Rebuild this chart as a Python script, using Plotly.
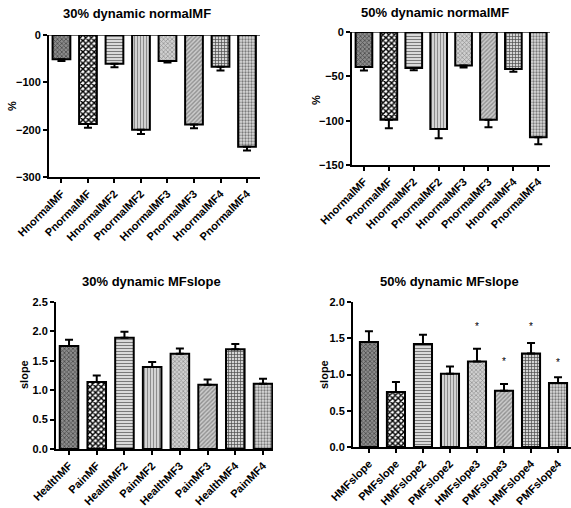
import plotly.graph_objects as go

W, H = 571, 508

cats_tl = ["HnormalMF", "PnormalMF", "HnormalMF2", "PnormalMF2", "HnormalMF3", "PnormalMF3", "HnormalMF4", "PnormalMF4"]
vals_tl = [-51, -188, -61, -200, -55, -189, -67, -236]
err_tl = [4, 8, 7, 9, 3, 8, 8, 8]

cats_tr = ["HnormalMF", "PnormalMF", "HnormalMF2", "PnormalMF2", "HnormalMF3", "PnormalMF3", "HnormalMF4", "PnormalMF4"]
vals_tr = [-39.5, -99, -40.7, -109.3, -37.7, -99, -41.8, -118.7]
err_tr = [3.8, 9.5, 2.3, 10.5, 2.3, 8.4, 3, 7.9]

cats_bl = ["HealthMF", "PainMF", "HealthMF2", "PainMF2", "HealthMF3", "PainMF3", "HealthMF4", "PainMF4"]
vals_bl = [1.75, 1.14, 1.89, 1.395, 1.62, 1.094, 1.695, 1.11]
err_bl = [0.11, 0.11, 0.105, 0.085, 0.09, 0.09, 0.09, 0.086]

cats_br = ["HMFslope", "PMFslope", "HMFslope2", "PMFslope2", "HMFslope3", "PMFslope3", "HMFslope4", "PMFslope4"]
vals_br = [1.45, 0.76, 1.42, 1.01, 1.18, 0.777, 1.29, 0.883]
err_br = [0.145, 0.135, 0.13, 0.1, 0.175, 0.092, 0.144, 0.078]
star_idx_br = [4, 5, 6, 7]
star_y_br = [1.66, 1.18, 1.66, 1.17]

titles = ["30% dynamic normalMF", "50% dynamic normalMF", "30% dynamic MFslope", "50% dynamic MFslope"]
ytitles = ["%", "%", "slope", "slope"]

# patterns per bar position
patterns = [
    dict(shape="x", bgcolor="#8c8c8c", fgcolor="#4a4a4a", size=3, solidity=0.45),
    dict(shape="x", bgcolor="#ffffff", fgcolor="#000000", size=4, solidity=0.6),
    dict(shape="-", bgcolor="#eeeeee", fgcolor="#7a7a7a", size=3, solidity=0.45),
    dict(shape="|", bgcolor="#e2e2e2", fgcolor="#8c8c8c", size=3, solidity=0.45),
    dict(shape="x", bgcolor="#d0d0d0", fgcolor="#8e8e8e", size=3, solidity=0.4),
    dict(shape="/", bgcolor="#cccccc", fgcolor="#909090", size=3, solidity=0.45),
    dict(shape="+", bgcolor="#d4d4d4", fgcolor="#4a4a4a", size=3, solidity=0.4),
    dict(shape=".", bgcolor="#dcdcdc", fgcolor="#7a7a7a", size=3, solidity=0.45),
]

def px_x(a, b):
    return [a / W, b / W]

def px_y(top, bottom):
    return [1 - bottom / H, 1 - top / H]

panels = [
    dict(cats=cats_tl, vals=vals_tl, err=err_tl, xd=px_x(49, 260), yd=px_y(35, 177),
         xr=[-0.47, 7.49], yr=[-300, 0], dtick=100, fmt="d", neg=True,
         title_xy=(137, 14), ytitle_xy=(12, 106)),
    dict(cats=cats_tr, vals=vals_tr, err=err_tr, xd=px_x(352, 550), yd=px_y(32, 165),
         xr=[-0.48, 7.47], yr=[-150, 0], dtick=50, fmt="d", neg=True,
         title_xy=(434.5, 13), ytitle_xy=(316, 100)),
    dict(cats=cats_bl, vals=vals_bl, err=err_bl, xd=px_x(56, 273), yd=px_y(302, 449),
         xr=[-0.47, 7.36], yr=[0, 2.5], dtick=0.5, fmt=".1f", neg=False,
         title_xy=(151.7, 281), ytitle_xy=(24, 375)),
    dict(cats=cats_br, vals=vals_br, err=err_br, xd=px_x(353, 571), yd=px_y(302, 447),
         xr=[-0.59, 7.48], yr=[0, 2.0], dtick=0.5, fmt=".1f", neg=False,
         title_xy=(449, 281), ytitle_xy=(324, 375)),
]

fig = go.Figure()
annotations = []
FONT = "Liberation Sans, Arial, sans-serif"

for i, p in enumerate(panels):
    n = "" if i == 0 else str(i + 1)
    xa, ya = "x" + n, "y" + n
    for j, (c, v, e) in enumerate(zip(p["cats"], p["vals"], p["err"])):
        if p["neg"]:
            ey = dict(type="data", symmetric=False, array=[0], arrayminus=[e],
                      color="black", thickness=2, width=4)
        else:
            ey = dict(type="data", symmetric=False, array=[e], arrayminus=[0],
                      color="black", thickness=2, width=4)
        fig.add_trace(go.Bar(
            x=[j], y=[v], xaxis=xa, yaxis=ya, width=0.67,
            marker=dict(color=patterns[j]["bgcolor"], line=dict(color="black", width=2),
                        pattern=patterns[j]),
            error_y=ey, showlegend=False, hoverinfo="skip"))
    fig.layout["xaxis" + n] = dict(
        domain=p["xd"], range=p["xr"], anchor=ya, automargin=False,
        tickmode="array", tickvals=list(range(8)), ticktext=p["cats"],
        tickangle=-45, showline=True, linecolor="black", linewidth=2,
        ticks="outside", ticklen=4, tickwidth=1.5, tickcolor="black",
        showgrid=False, zeroline=False,
        tickfont=dict(family=FONT, size=11, color="black", weight="bold"))
    fig.layout["yaxis" + n] = dict(
        domain=p["yd"], range=p["yr"], anchor=xa, automargin=False,
        dtick=p["dtick"], tickformat=p["fmt"],
        showline=True, linecolor="black", linewidth=2,
        ticks="outside", ticklen=4, tickwidth=1.5, tickcolor="black",
        showgrid=False,
        zeroline=p["neg"], zerolinecolor="#666666", zerolinewidth=1,
        tickfont=dict(family=FONT, size=11, color="black", weight="bold"))
    tx, ty = p["title_xy"]
    annotations.append(dict(text=titles[i], x=tx / W, y=1 - ty / H, xref="paper", yref="paper",
                            xanchor="center", yanchor="middle", showarrow=False,
                            font=dict(family=FONT, size=13, color="black", weight="bold")))
    yx, yy = p["ytitle_xy"]
    annotations.append(dict(text=ytitles[i], x=yx / W, y=1 - yy / H, xref="paper", yref="paper",
                            xanchor="center", yanchor="middle", showarrow=False, textangle=-90,
                            font=dict(family=FONT, size=11, color="black", weight="bold")))

# significance asterisks on the bottom-right panel
for sx, sy in zip(star_idx_br, star_y_br):
    annotations.append(dict(text="*", x=sx, y=sy, xref="x4", yref="y4", showarrow=False,
                            xanchor="center", yanchor="middle",
                            font=dict(family=FONT, size=10, color="#000000")))

fig.update_layout(
    template="none",
    width=W, height=H, margin=dict(l=0, r=0, t=0, b=0),
    paper_bgcolor="white", plot_bgcolor="white",
    barmode="overlay", annotations=annotations, showlegend=False)

fig.write_html("out.html", config={"displayModeBar": False},
               post_script="document.body.style.margin='0px';")
